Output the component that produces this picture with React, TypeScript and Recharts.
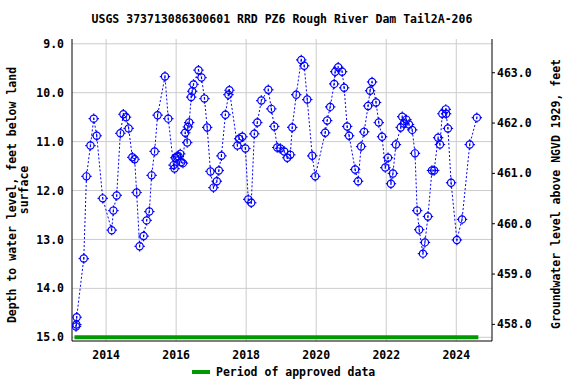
import React from "react";
import { ComposedChart, Line, XAxis, YAxis, CartesianGrid } from "recharts";

const obsYears = [
  2013.14, 2013.15, 2013.16, 2013.362, 2013.439, 2013.553, 2013.647, 2013.732, 2013.903,
  2014.16, 2014.208, 2014.302, 2014.407, 2014.493, 2014.57, 2014.644, 2014.749, 2014.815,
  2014.872, 2014.957, 2015.071, 2015.157, 2015.234, 2015.299, 2015.385, 2015.47, 2015.681,
  2015.775, 2015.926, 2015.954, 2015.974, 2016.023, 2016.068, 2016.117, 2016.145, 2016.194,
  2016.259, 2016.316, 2016.336, 2016.373, 2016.43, 2016.459, 2016.496, 2016.638, 2016.724,
  2016.809, 2016.886, 2016.98, 2017.066, 2017.162, 2017.219, 2017.293, 2017.407, 2017.493,
  2017.521, 2017.749, 2017.798, 2017.892, 2017.977, 2018.06, 2018.145, 2018.234, 2018.319,
  2018.433, 2018.632, 2018.718, 2018.803, 2018.886, 2018.974, 2019.088, 2019.174, 2019.259,
  2019.316, 2019.43, 2019.573, 2019.658, 2019.744, 2019.886, 2019.972, 2020.256, 2020.313,
  2020.399, 2020.513, 2020.541, 2020.627, 2020.741, 2020.798, 2020.883, 2020.94, 2021.111,
  2021.197, 2021.282, 2021.368, 2021.481, 2021.538, 2021.595, 2021.709, 2021.786, 2021.88,
  2021.972, 2022.051, 2022.134, 2022.191, 2022.276, 2022.413, 2022.456, 2022.504, 2022.575,
  2022.65, 2022.741, 2022.821, 2022.883, 2022.94, 2023.048, 2023.105, 2023.191, 2023.305,
  2023.368, 2023.481, 2023.533, 2023.601, 2023.7, 2023.71, 2023.761, 2023.852, 2024.017,
  2024.165, 2024.384, 2024.587,
];

const obsDepths = [
  14.78, 14.74, 14.59, 13.39, 11.71, 11.08, 10.53, 10.88, 12.16,
  12.81, 12.41, 12.1, 10.83, 10.44, 10.5, 10.73, 11.32, 11.36,
  12.04, 13.14, 12.93, 12.61, 12.43, 11.69, 11.2, 10.46, 9.67,
  10.53, 11.48, 11.55, 11.33, 11.31, 11.3, 11.25, 11.42, 11.44,
  10.82, 11.02, 10.7, 10.61, 10.09, 9.97, 9.83, 9.54, 9.69,
  10.12, 10.71, 11.61, 11.94, 11.81, 11.59, 11.29, 10.45, 10.04,
  9.95, 11.08, 10.94, 10.9, 11.14, 12.18, 12.25, 10.84, 10.61,
  10.16, 9.94, 10.33, 10.69, 11.12, 11.14, 11.2, 11.33, 11.27,
  10.71, 10.04, 9.33, 9.45, 10.14, 11.29, 11.71, 10.82, 10.57,
  10.29, 9.82, 9.57, 9.48, 9.57, 9.9, 10.69, 10.88, 11.57,
  11.81, 11.1, 10.8, 10.27, 9.96, 9.78, 10.2, 10.61, 10.9,
  11.53, 11.33, 11.86, 11.65, 11.06, 10.71, 10.49, 10.63, 10.55,
  10.65, 10.76, 11.24, 12.41, 12.8, 13.29, 13.06, 12.53, 11.59,
  11.59, 10.92, 11.06, 10.43, 10.34, 10.43, 10.73, 11.84, 13.01,
  12.59, 11.06, 10.51,
];

const approvedYears = [2013.097, 2024.63];
const approvedDepths = [15.0, 15.0];

const yearTicks = [2014, 2016, 2018, 2020, 2022, 2024];
const depthTicks = [9, 10, 11, 12, 13, 14, 15];
const elevTicks = [458, 459, 460, 461, 462, 463];

const titleText = "USGS 373713086300601 RRD PZ6 Rough River Dam Tail2A-206";
const leftLabel1 = "Depth to water level, feet below land";
const leftLabel2 = "surface";
const rightLabel = "Groundwater level above NGVD 1929, feet";
const legendText = "Period of approved data";

const obsData = obsYears.map((x, i) => ({ x, depth: obsDepths[i] }));
const approvedData = approvedYears.map((x, i) => ({ x, depth: approvedDepths[i] }));

const FONT = "'DejaVu Sans Mono', monospace";
const BLUE = "#0000ff";
const GREEN = "#009900";

const Marker = (props: any) => {
  const { cx, cy } = props;
  if (cx == null || cy == null) return null;
  return (
    <g stroke={BLUE} strokeWidth={1.2} fill="none">
      <circle cx={cx} cy={cy} r={3.6} />
      <line x1={cx} y1={cy - 5.2} x2={cx} y2={cy - 3.6} />
      <line x1={cx} y1={cy + 3.6} x2={cx} y2={cy + 5.2} />
      <line x1={cx - 5.2} y1={cy} x2={cx - 3.6} y2={cy} />
      <line x1={cx + 3.6} y1={cy} x2={cx + 5.2} y2={cy} />
      <line x1={cx} y1={cy - 1.2} x2={cx} y2={cy + 1.2} />
    </g>
  );
};

const tickStyle = { fontFamily: FONT, fontSize: 11.5, fontWeight: "bold", fill: "#000" };

export default function App() {
  return (
    <div style={{ position: "absolute", left: 0, top: 0, width: 576, height: 384, background: "#fff" }}>
      <ComposedChart
        width={576}
        height={384}
        margin={{ top: 39, right: 0, bottom: 0, left: 0 }}
        style={{ position: "absolute", left: 0, top: 0 }}
      >
        <CartesianGrid
          xAxisId="bottom"
          yAxisId="left"
          stroke="#cccccc"
          strokeWidth={1}
          horizontalValues={depthTicks}
          verticalValues={yearTicks}
        />
        <XAxis
          xAxisId="bottom"
          type="number"
          dataKey="x"
          domain={[2013.026, 2025.02]}
          allowDataOverflow
          ticks={yearTicks}
          tickFormatter={(v: number) => String(Math.round(v))}
          height={43}
          tickSize={0}
          tickMargin={10}
          axisLine={{ stroke: "#000", strokeWidth: 1 }}
          tick={tickStyle}
          interval={0}
        />
        <XAxis
          xAxisId="top"
          orientation="top"
          type="number"
          dataKey="x"
          domain={[2013.026, 2025.02]}
          allowDataOverflow
          height={0}
          tick={false}
          tickLine={false}
          axisLine={{ stroke: "#000", strokeWidth: 1 }}
        />
        <YAxis
          yAxisId="left"
          type="number"
          reversed
          domain={[8.902, 15.076]}
          allowDataOverflow
          ticks={depthTicks}
          tickFormatter={(v: number) => v.toFixed(1)}
          width={72}
          tickSize={0}
          tickMargin={8}
          axisLine={{ stroke: "#000", strokeWidth: 1 }}
          tick={tickStyle}
          interval={0}
        />
        <YAxis
          yAxisId="right"
          orientation="right"
          type="number"
          domain={[457.67, 463.67]}
          allowDataOverflow
          ticks={elevTicks}
          tickFormatter={(v: number) => v.toFixed(1)}
          width={84}
          tickSize={3}
          tickMargin={2}
          axisLine={{ stroke: "#000", strokeWidth: 1 }}
          tickLine={{ stroke: "#000" }}
          tick={tickStyle}
          interval={0}
        />
        <Line
          xAxisId="bottom"
          yAxisId="left"
          data={approvedData}
          dataKey="depth"
          stroke={GREEN}
          strokeWidth={4}
          dot={false}
          activeDot={false}
          isAnimationActive={false}
        />
        <Line
          xAxisId="bottom"
          yAxisId="left"
          data={obsData}
          dataKey="depth"
          stroke={BLUE}
          strokeWidth={1}
          strokeDasharray="2 2"
          dot={<Marker />}
          activeDot={false}
          isAnimationActive={false}
        />
      </ComposedChart>
      <svg
        width={576}
        height={384}
        style={{ position: "absolute", left: 0, top: 0, pointerEvents: "none" }}
      >
        <g fontFamily={FONT} fontSize={11.5} fontWeight="bold" fill="#000">
          <text x={282} y={19} textAnchor="middle" dominantBaseline="central">{titleText}</text>
          <text x={12} y={195} textAnchor="middle" dominantBaseline="central" transform="rotate(-90 12 195)">{leftLabel1}</text>
          <text x={24} y={190} textAnchor="middle" dominantBaseline="central" transform="rotate(-90 24 190)">{leftLabel2}</text>
          <text x={556} y={194} textAnchor="middle" dominantBaseline="central" transform="rotate(-90 556 194)">{rightLabel}</text>
          <rect x={192} y={370} width={18} height={4} fill={GREEN} />
          <text x={216} y={372} dominantBaseline="central">{legendText}</text>
        </g>
      </svg>
    </div>
  );
}
